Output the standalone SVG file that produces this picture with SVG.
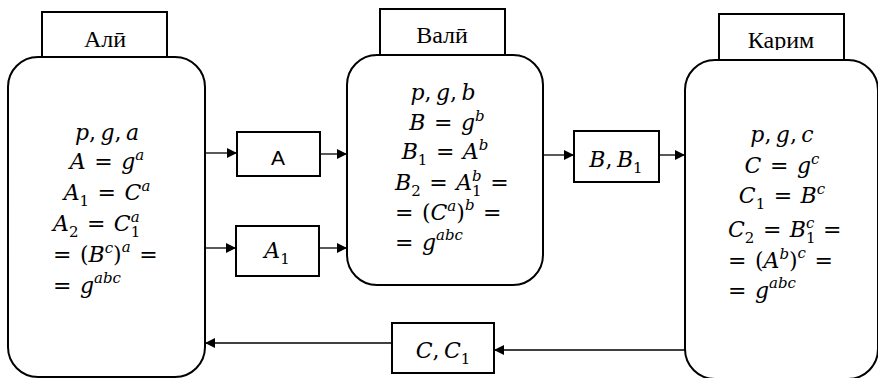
<svg xmlns="http://www.w3.org/2000/svg" width="878" height="378" viewBox="0 0 878 378">
<style>
.box{fill:#fff;stroke:#000;stroke-width:2}
.lbl{font-family:"Liberation Serif","Times New Roman",serif;font-size:24px;text-anchor:middle}
.m{font-family:"DejaVu Serif",serif;font-style:italic;font-size:22px;word-spacing:1.5px}
.c{text-anchor:middle}
.u{font-style:normal}
.s{font-size:15px;word-spacing:0}
.sans{font-family:"Liberation Sans",sans-serif;font-size:21px;text-anchor:middle}
.ln{stroke:#000;stroke-width:1.3;fill:none;marker-end:url(#ah)}
</style>
<defs>
<marker id="ah" viewBox="0 0 10 10" refX="10" refY="5" markerWidth="10" markerHeight="10" markerUnits="userSpaceOnUse" orient="auto">
<path d="M0,0 L10,5 L0,10 z" fill="#000"/>
</marker>
<clipPath id="kc"><rect x="719" y="14" width="125" height="36"/></clipPath>
</defs>
<g id="connectors">
<line class="ln" x1="205" y1="153" x2="237" y2="153"/>
<line class="ln" x1="320" y1="154" x2="347" y2="154"/>
<line class="ln" x1="205" y1="248" x2="236" y2="248"/>
<line class="ln" x1="319" y1="248" x2="347" y2="248"/>
<line class="ln" x1="543" y1="155" x2="574" y2="155"/>
<line class="ln" x1="659" y1="155" x2="685" y2="155"/>
<line class="ln" x1="685" y1="350" x2="494" y2="350"/>
<line class="ln" x1="392" y1="343" x2="205" y2="343"/>
</g>
<g id="ali">
<rect class="box" x="42" y="12" width="125" height="45"/>
<text class="lbl" x="105" y="47">Алӣ</text>
<rect class="box" x="8" y="57" width="197" height="320" rx="30"/>
<text class="m c" x="107" y="140">p<tspan class="u">,&#8201;</tspan>g<tspan class="u">,&#8201;</tspan>a</text>
<text class="m c" x="107" y="169">A <tspan class="u">= </tspan>g<tspan class="s" dy="-9">a</tspan></text>
<text class="m c" x="107" y="200">A<tspan class="s u" dy="6">1</tspan><tspan class="u" dy="-6"> = </tspan>C<tspan class="s" dy="-9">a</tspan></text>
<text class="m" x="53" y="231">A<tspan class="s u" dy="6">2</tspan><tspan class="u" dy="-6"> = </tspan>C<tspan class="s u" dy="6">1</tspan><tspan class="s" dx="-9.5" dy="-15">a</tspan></text>
<text class="m" x="53" y="262"><tspan class="u">= (</tspan>B<tspan class="s" dy="-9">c</tspan><tspan class="u" dy="9">)</tspan><tspan class="s" dy="-10">a</tspan><tspan class="u" dy="10"> =</tspan></text>
<text class="m" x="53" y="293"><tspan class="u">= </tspan>g<tspan class="s" dy="-10">abc</tspan></text>
</g>
<g id="box-a">
<rect class="box" x="237" y="132" width="83" height="44"/>
<text class="sans" x="278" y="165">A</text>
</g>
<g id="box-a1">
<rect class="box" x="236" y="226" width="83" height="50"/>
<text class="m c" x="277" y="258">A<tspan class="s u" dy="6">1</tspan></text>
</g>
<g id="vali">
<rect class="box" x="380" y="9" width="125" height="46"/>
<text class="lbl" x="442" y="43">Валӣ</text>
<rect class="box" x="347" y="55" width="196" height="230" rx="30"/>
<text class="m c" x="443" y="100">p<tspan class="u">,&#8201;</tspan>g<tspan class="u">,&#8201;</tspan>b</text>
<text class="m c" x="447" y="130">B <tspan class="u">= </tspan>g<tspan class="s" dy="-9">b</tspan></text>
<text class="m c" x="445" y="159">B<tspan class="s u" dy="6">1</tspan><tspan class="u" dy="-6"> = </tspan>A<tspan class="s" dy="-9">b</tspan></text>
<text class="m" x="395" y="190">B<tspan class="s u" dy="6">2</tspan><tspan class="u" dy="-6"> = </tspan>A<tspan class="s u" dy="6">1</tspan><tspan class="s" dx="-9.5" dy="-15">b</tspan><tspan class="u" dy="9"> =</tspan></text>
<text class="m" x="395" y="220"><tspan class="u">= (</tspan>C<tspan class="s" dy="-9">a</tspan><tspan class="u" dy="9">)</tspan><tspan class="s" dy="-10">b</tspan><tspan class="u" dy="10"> =</tspan></text>
<text class="m" x="395" y="250"><tspan class="u">= </tspan>g<tspan class="s" dy="-10">abc</tspan></text>
</g>
<g id="box-bb1">
<rect class="box" x="574" y="131" width="85" height="51"/>
<text class="m c" x="616" y="167">B<tspan class="u">,&#8201;</tspan>B<tspan class="s u" dy="6">1</tspan></text>
</g>
<g id="karim">
<rect class="box" x="719" y="14" width="125" height="46"/>
<text class="lbl" x="781" y="48" clip-path="url(#kc)">Карим</text>
<rect class="box" x="685" y="60" width="193" height="319" rx="30"/>
<text class="m c" x="782" y="142">p<tspan class="u">,&#8201;</tspan>g<tspan class="u">,&#8201;</tspan>c</text>
<text class="m c" x="782" y="173">C <tspan class="u">= </tspan>g<tspan class="s" dy="-9">c</tspan></text>
<text class="m c" x="782" y="203">C<tspan class="s u" dy="6">1</tspan><tspan class="u" dy="-6"> = </tspan>B<tspan class="s" dy="-9">c</tspan></text>
<text class="m" x="728" y="237">C<tspan class="s u" dy="6">2</tspan><tspan class="u" dy="-6"> = </tspan>B<tspan class="s u" dy="6">1</tspan><tspan class="s" dx="-9.5" dy="-15">c</tspan><tspan class="u" dy="9"> =</tspan></text>
<text class="m" x="728" y="268"><tspan class="u">= (</tspan>A<tspan class="s" dy="-9">b</tspan><tspan class="u" dy="9">)</tspan><tspan class="s" dy="-10">c</tspan><tspan class="u" dy="10"> =</tspan></text>
<text class="m" x="728" y="298"><tspan class="u">= </tspan>g<tspan class="s" dy="-10">abc</tspan></text>
</g>
<g id="box-cc1">
<rect class="box" x="392" y="323" width="102" height="50"/>
<text class="m c" x="443" y="358">C<tspan class="u">,&#8201;</tspan>C<tspan class="s u" dy="6">1</tspan></text>
</g>
</svg>
